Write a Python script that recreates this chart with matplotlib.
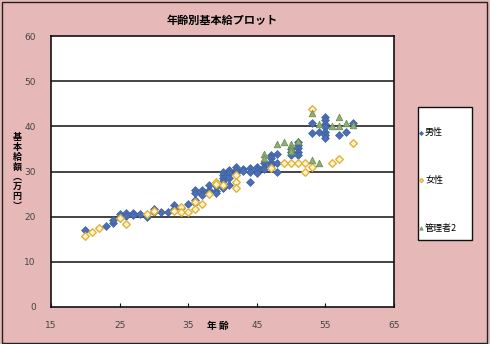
import matplotlib
matplotlib.use("Agg")
import matplotlib.pyplot as plt
from matplotlib.patches import Rectangle

plt.rcParams['font.family'] = ['Noto Sans CJK JP', 'DejaVu Sans']

# ---- data ----
male_age = [20, 23, 24, 24, 25, 25, 26, 26, 27, 27, 28, 29, 30, 30, 31, 32, 33, 33, 34, 35,
            36, 36, 36, 36, 37, 37, 37, 38, 38, 38, 39, 39, 39,
            40, 40, 40, 40, 40, 40, 41, 41, 41, 41, 42, 42, 42, 43, 43, 44, 44, 44,
            45, 45, 45, 46, 46, 46, 47, 47, 47, 47, 47, 48, 48, 48,
            50, 50, 50, 51, 51, 51, 51, 51, 53, 53, 54,
            55, 55, 55, 55, 55, 55, 55, 57, 58, 59]
male_sal = [17.0, 18.0, 18.6, 19.2, 20.5, 19.8, 20.8, 20.2, 20.8, 20.3, 20.6, 20.0, 21.8, 21.0, 21.0, 21.0, 22.5, 21.6, 22.0, 22.8,
            23.7, 23.0, 25.9, 25.2, 25.9, 25.3, 24.8, 27.0, 26.0, 25.4, 26.8, 25.7, 25.2,
            30.0, 29.2, 28.6, 27.9, 26.8, 26.3, 30.3, 29.6, 28.6, 27.0, 31.0, 30.3, 29.6, 30.5, 30.2, 30.7, 30.0, 27.7,
            31.0, 30.4, 29.7, 31.8, 30.9, 30.5, 33.6, 32.9, 32.2, 31.4, 30.7, 33.8, 31.8, 29.8,
            35.0, 34.4, 33.6, 36.6, 35.8, 35.1, 34.4, 33.6, 40.8, 38.6, 38.8,
            42.1, 41.4, 40.6, 39.9, 38.8, 38.1, 37.4, 38.0, 38.8, 40.8]

female_age = [20, 21, 22, 25, 26, 29, 30, 33, 34, 34, 35, 36, 36, 37, 38, 39, 39, 40, 42, 42, 42,
              47, 49, 50, 51, 52, 52, 53, 53, 56, 57, 59]
female_sal = [15.8, 16.5, 17.5, 19.6, 18.3, 20.7, 21.2, 21.3, 22.2, 21.0, 21.0, 21.8, 23.2, 22.8, 25.0, 27.7, 27.3, 27.0, 29.2, 27.7, 26.3,
              30.7, 31.8, 31.8, 31.8, 31.8, 29.8, 31.0, 43.8, 31.8, 32.8, 36.3]

mgr_age = [46, 46, 48, 49, 50, 50, 50, 51, 53, 53, 54, 54, 56, 57, 57, 58, 59]
mgr_sal = [33.8, 33.0, 36.0, 36.6, 36.0, 35.3, 34.6, 36.8, 43.0, 32.5, 40.6, 31.8, 40.0, 42.1, 40.1, 40.8, 40.3]

labels = ['男性', '女性', '管理者2']
title = '年齢別基本給プロット'
xlabel = '年 齢'
ylabel = '基\n本\n給\n額\n︵\n万\n円\n︶'
xticks = [15, 25, 35, 45, 55, 65]
yticks = [0, 10, 20, 30, 40, 50, 60]

# ---- figure ----
W, H = 490, 344
fig = plt.figure(figsize=(W / 100, H / 100), dpi=100)
pink = '#E6B9B8'
fig.patch.set_facecolor(pink)
fig.patches.append(Rectangle((2 / W, 1 / H), 1 - 5 / W, 1 - 3 / H, transform=fig.transFigure,
                             fill=False, edgecolor='#222222', linewidth=1.0))

ax = fig.add_axes([51 / W, 1 - 307 / H, (394 - 51) / W, (307 - 36) / H])
ax.set_facecolor('white')
ax.set_xlim(15, 65)
ax.set_ylim(0, 60)
ax.set_xticks(xticks)
ax.set_yticks(yticks)
for y in yticks[1:-1]:
    ax.axhline(y, color='#111111', linewidth=1.1, zorder=1)
for s in ax.spines.values():
    s.set_color('#111111')
    s.set_linewidth(1.2)

h1 = ax.scatter(male_age, male_sal, marker='D', s=16, color='#4A6FB5', edgecolors='#3F5F9F',
                linewidths=0.5, zorder=3, label=labels[0])
h2 = ax.scatter(female_age, female_sal, marker='D', s=15, facecolors='#FFF6C8', edgecolors='#E2B13C',
                linewidths=1.0, zorder=4, label=labels[1])
h3 = ax.scatter(mgr_age, mgr_sal, marker='^', s=22, color='#8FB070', edgecolors='#6E8F55',
                linewidths=0.6, zorder=5, label=labels[2])

ax.tick_params(axis='x', direction='in', length=3, pad=10, labelsize=6.5, labelcolor='#444444',
               color='#111111')
ax.tick_params(axis='y', direction='out', length=0, pad=11, labelsize=6.5, labelcolor='#444444')
for lab in ax.get_xticklabels() + ax.get_yticklabels():
    lab.set_family(['DejaVu Sans'])

fig.text(222 / W, 1 - 20 / H, title, ha='center', va='center', fontsize=8, fontweight='bold')
fig.text(218 / W, 1 - 326 / H, xlabel, ha='center', va='center', fontsize=7, fontweight='bold')
fig.text(17 / W, 1 - 172 / H, ylabel, ha='center', va='center', fontsize=6.5, fontweight='bold',
         linespacing=1.12)

# legend box
fig.patches.append(Rectangle((418 / W, 1 - 240 / H), 54 / W, 133 / H, transform=fig.transFigure,
                             facecolor='white', edgecolor='#111111', linewidth=1.0, zorder=1))
leg = fig.legend(loc='upper left', bbox_to_anchor=(416 / W, 1 - 128 / H), bbox_transform=fig.transFigure,
                 frameon=False, fontsize=6.5, markerscale=0.5, handletextpad=0.0, handlelength=1.0,
                 labelspacing=4.3, borderpad=0.0, borderaxespad=0)
leg.set_zorder(5)

fig.savefig('out.png', dpi=100, facecolor=pink)
